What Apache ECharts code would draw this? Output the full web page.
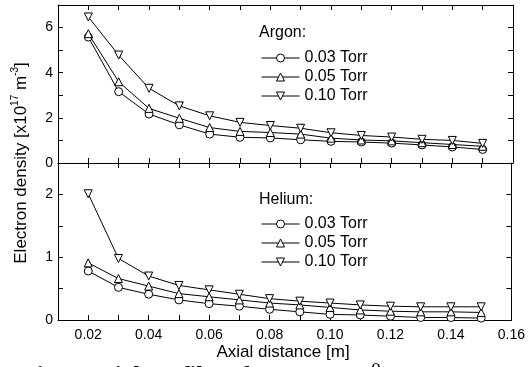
<!DOCTYPE html>
<html>
<head>
<meta charset="utf-8">
<script src="https://cdn.jsdelivr.net/npm/echarts@6/dist/echarts.min.js"></script>
<style>
  html, body { margin: 0; padding: 0; background: #fff; }
  #chart { width: 528px; height: 367px; }
</style>
</head>
<body>
<div id="chart"></div>
<script>
// axial distance [m]
const distance = [0.02, 0.03, 0.04, 0.05, 0.06, 0.07, 0.08, 0.09, 0.10, 0.11, 0.12, 0.13, 0.14, 0.15];
const pressures = ['0.03 Torr', '0.05 Torr', '0.10 Torr'];

// electron density [x10^17 m^-3]
const argon003 = [5.58, 3.16, 2.17, 1.69, 1.28, 1.14, 1.11, 1.03, 0.96, 0.93, 0.88, 0.80, 0.71, 0.60];
const argon005 = [5.73, 3.60, 2.42, 1.98, 1.57, 1.40, 1.35, 1.28, 1.10, 1.02, 0.98, 0.90, 0.82, 0.74];
const argon010 = [6.47, 4.78, 3.31, 2.53, 2.09, 1.80, 1.66, 1.54, 1.34, 1.22, 1.15, 1.05, 1.00, 0.87];

const helium003 = [0.78, 0.52, 0.41, 0.32, 0.26, 0.22, 0.17, 0.13, 0.09, 0.08, 0.06, 0.04, 0.04, 0.03];
const helium005 = [0.91, 0.66, 0.54, 0.42, 0.37, 0.32, 0.27, 0.24, 0.20, 0.16, 0.14, 0.13, 0.13, 0.12];
const helium010 = [2.01, 0.98, 0.70, 0.55, 0.48, 0.41, 0.34, 0.30, 0.27, 0.24, 0.22, 0.21, 0.21, 0.21];

const FONT = '"Liberation Sans", Arial, sans-serif';
const chart = echarts.init(document.getElementById('chart'));

// marker: open circle / triangle / down triangle
const markers = [
  { symbol: 'circle', rotate: 0 },
  { symbol: 'triangle', rotate: 0 },
  { symbol: 'triangle', rotate: 180 },
];

function makeSeries(gas, values, idx, axisIdx) {
  return {
    name: gas + ' ' + pressures[idx],
    type: 'line',
    xAxisIndex: axisIdx,
    yAxisIndex: axisIdx,
    data: distance.map((x, i) => [x, values[i]]),
    symbol: markers[idx].symbol,
    symbolRotate: markers[idx].rotate,
    symbolSize: 8,
    showSymbol: true,
    lineStyle: { color: '#000', width: 1 },
    itemStyle: { color: '#fff', borderColor: '#000', borderWidth: 1 },
    z: 3 + idx,
  };
}

const axisLine = { show: true, onZero: false, lineStyle: { color: '#000', width: 1 } };
const tick = { show: true, inside: true, length: 5, lineStyle: { color: '#000', width: 1 } };

function xAxis(grid, position, labels) {
  return {
    type: 'value', gridIndex: grid, position: position,
    min: 0.01, max: 0.16, interval: 0.01,
    axisLine: axisLine, axisTick: tick, splitLine: { show: false },
    axisLabel: {
      show: labels, margin: 8, color: '#000', fontSize: 14, fontFamily: FONT,
      formatter: v => (Math.round(v * 100) % 2 === 0 ? v.toFixed(2) : ''),
    },
  };
}

function yAxis(grid, position, max, interval, labels) {
  return {
    type: 'value', gridIndex: grid, position: position,
    min: 0, max: max, interval: interval,
    axisLine: axisLine, axisTick: tick, splitLine: { show: false },
    axisLabel: {
      show: labels, margin: 5, color: '#000', fontSize: 14, fontFamily: FONT,
      formatter: v => (labels && v % (grid === 0 ? 2 : 1) === 0 && v < max ? String(v) : ''),
    },
  };
}

function legend(gas, top) {
  return {
    orient: 'vertical', left: 256, top: top,
    itemWidth: 38, itemHeight: 10, itemGap: 3,
    selectedMode: false,
    data: pressures.map(p => gas + ' ' + p),
    formatter: n => n.replace(/^\w+ /, ''),
    lineStyle: { color: '#000', width: 1 },
    itemStyle: { color: '#fff', borderColor: '#000', borderWidth: 1 },
    textStyle: { color: '#000', fontSize: 16, lineHeight: 16, fontFamily: FONT },
  };
}

const option = {
  animation: false,
  backgroundColor: '#fff',
  grid: [
    { left: 58, right: 15, top: 5, height: 158 },
    { left: 58, right: 15, top: 163, height: 157 },
  ],
  xAxis: [
    xAxis(0, 'bottom', false),
    xAxis(0, 'top', false),
    xAxis(1, 'bottom', true),
    xAxis(1, 'top', false),
  ],
  yAxis: [
    yAxis(0, 'left', 7, 1, true),
    yAxis(0, 'right', 7, 1, false),
    yAxis(1, 'left', 2.5, 0.5, true),
    yAxis(1, 'right', 2.5, 0.5, false),
  ],
  legend: [legend('Argon', 45), legend('Helium', 211)],
  series: [
    makeSeries('Argon', argon003, 0, 0),
    makeSeries('Argon', argon005, 1, 0),
    makeSeries('Argon', argon010, 2, 0),
    makeSeries('Helium', helium003, 0, 2),
    makeSeries('Helium', helium005, 1, 2),
    makeSeries('Helium', helium010, 2, 2),
  ],
  graphic: [
    { type: 'text', left: 259, top: 25, style: { text: 'Argon:', fill: '#000', font: '16px ' + FONT } },
    { type: 'text', left: 259, top: 192, style: { text: 'Helium:', fill: '#000', font: '16px ' + FONT } },
    // x axis name
    { type: 'text', x: 283, y: 352, style: {
      text: 'Axial distance [m]', fill: '#000', font: '17px ' + FONT, align: 'center', verticalAlign: 'middle' } },
    // y axis name, with superscripts
    { type: 'text', x: 20, y: 163, rotation: Math.PI / 2, style: {
      text: '{n|Electron density [x10}{s|17}{n| m}{s|-3}{n|]}',
      align: 'center', verticalAlign: 'middle',
      rich: {
        n: { fontSize: 17, fontFamily: FONT, color: '#000', lineHeight: 20, verticalAlign: 'bottom' },
        s: { fontSize: 10, fontFamily: FONT, color: '#000', lineHeight: 20, verticalAlign: 'top' },
      } } },
    // caption, cut off by the bottom edge
    { type: 'text', left: 22, top: 364, style: {
      text: 'Fig.3. Axial profiles of', fill: '#000', font: 'bold 24px "Liberation Serif", serif' } },
    { type: 'text', left: 371, top: 362, style: {
      text: '0', fill: '#000', font: '20px "Liberation Serif", serif' } },
  ],
};

chart.setOption(option);
</script>
</body>
</html>
